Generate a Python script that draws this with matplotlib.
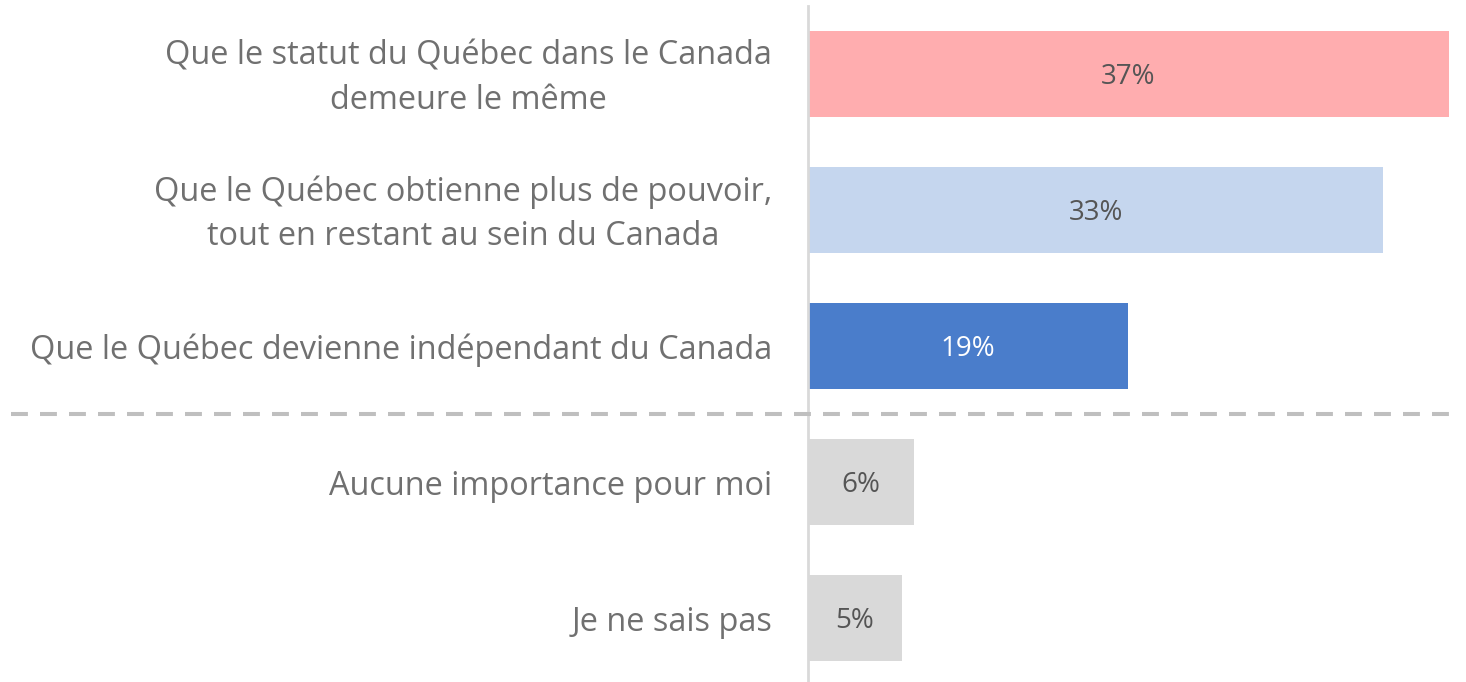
import matplotlib
matplotlib.use("Agg")
import matplotlib.pyplot as plt
from matplotlib.transforms import blended_transform_factory, offset_copy
from matplotlib.lines import Line2D

categories = [
    "Que le statut du Québec dans le Canada\ndemeure le même",
    "Que le Québec obtienne plus de pouvoir,\ntout en restant au sein du Canada",
    "Que le Québec devienne indépendant du Canada",
    "Aucune importance pour moi",
    "Je ne sais pas",
]
values = [37.0, 33.2, 18.5, 6.1, 5.4]
value_labels = ["37%", "33%", "19%", "6%", "5%"]
colors = ["#FFADAF", "#C5D6EE", "#4A7DCB", "#D9D9D9", "#D9D9D9"]
label_colors = ["#555555", "#555555", "#FFFFFF", "#555555", "#555555"]

plt.rcParams['font.family'] = ['Open Sans', 'DejaVu Sans']

W, H = 1466, 682
fig = plt.figure(figsize=(W / 100, H / 100), dpi=100)
ax = fig.add_axes([808 / W, 0, (W - 808) / W, 1])

ypos = list(range(len(categories)))
ax.barh(ypos, values, height=0.632, color=colors, edgecolor='none')
ax.set_ylim(4.47, -0.544)
ax.set_xlim(0, (W - 808) / 17.32)

txt_tr = offset_copy(ax.transData, fig=fig, x=0, y=-3, units='dots')
for y, v, lab, c in zip(ypos, values, value_labels, label_colors):
    ax.text(v / 2, y, lab, ha='center', va='center', fontsize=20, color=c,
            transform=txt_tr)

cat_tr = offset_copy(ax.transData, fig=fig, x=-36, y=-4, units='dots')
for y, cat in zip(ypos, categories):
    ax.text(0, y, cat, ha='right', va='center', fontsize=23.4, color='#707070',
            linespacing=1.45, multialignment='center', transform=cat_tr)

ax.set_yticks([])
ax.set_xticks([])
for s in ax.spines.values():
    s.set_visible(False)

ax.axvline(0, ymin=0, ymax=1 - 6 / H, color='#D9D9D9', lw=2, clip_on=False)

tr = blended_transform_factory(fig.transFigure, ax.transData)
fig.add_artist(Line2D([11 / W, 1457 / W], [2.5, 2.5], transform=tr,
                      color='#BFBFBF', lw=2.9, linestyle=(0, (4.2, 3.0))))

fig.savefig("out.png", dpi=100)
